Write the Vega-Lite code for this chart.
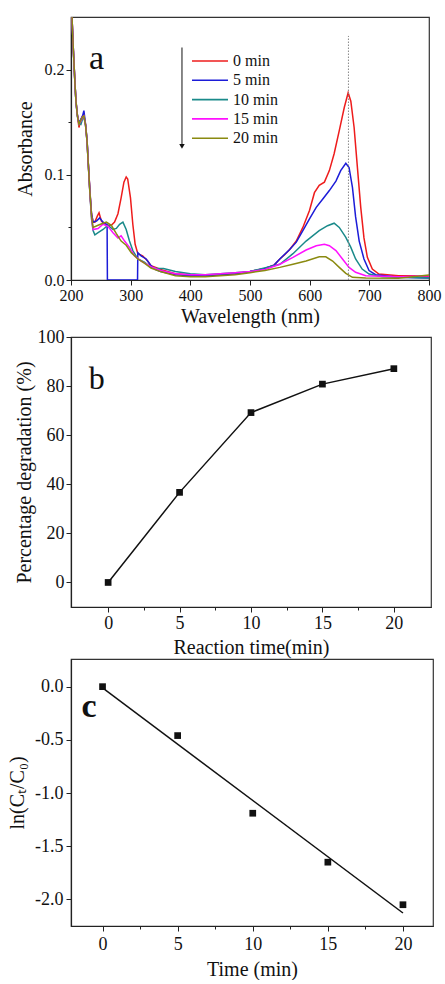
{
"$schema": "https://vega.github.io/schema/vega-lite/v6.json",
"padding": {"left": 6, "top": 16, "right": 4, "bottom": 0},
"spacing": 0,
"config": {
  "font": "Liberation Serif",
  "locale": {"number": {"decimal": ".", "thousands": ",", "grouping": [3], "currency": ["$", ""], "minus": "-"}},
  "view": {"stroke": "#333", "strokeWidth": 1.2},
  "axis": {"grid": false, "domainColor": "#222", "tickColor": "#222", "labelColor": "#111", "titleColor": "#111", "labelFont": "Liberation Serif", "titleFont": "Liberation Serif", "titleFontWeight": "normal", "domainWidth": 1.2, "tickWidth": 1, "labelOverlap": false, "labelFlush": false, "titleFontSize": 20},
  "legend": {"labelFont": "Liberation Serif"},
  "text": {"font": "Liberation Serif"}
},
"datasets": {
  "spec": [
{"s":"0 min","w":200,"a":0.32},{"s":"0 min","w":202,"a":0.245},{"s":"0 min","w":204,"a":0.218},{"s":"0 min","w":206.7,"a":0.186},{"s":"0 min","w":208.3,"a":0.17},{"s":"0 min","w":210.5,"a":0.158},{"s":"0 min","w":213.3,"a":0.145},{"s":"0 min","w":216.6,"a":0.152},{"s":"0 min","w":219.4,"a":0.156},{"s":"0 min","w":221.6,"a":0.157},{"s":"0 min","w":224.4,"a":0.148},{"s":"0 min","w":227,"a":0.132},{"s":"0 min","w":228.8,"a":0.113},{"s":"0 min","w":231.6,"a":0.085},{"s":"0 min","w":234.4,"a":0.063},{"s":"0 min","w":237,"a":0.055},{"s":"0 min","w":240,"a":0.055},{"s":"0 min","w":244.3,"a":0.061},{"s":"0 min","w":247,"a":0.064},{"s":"0 min","w":251,"a":0.056},{"s":"0 min","w":256.5,"a":0.053},{"s":"0 min","w":262,"a":0.052},{"s":"0 min","w":267.6,"a":0.052},{"s":"0 min","w":273,"a":0.055},{"s":"0 min","w":278.7,"a":0.063},{"s":"0 min","w":284,"a":0.078},{"s":"0 min","w":288.7,"a":0.093},{"s":"0 min","w":292.5,"a":0.098},{"s":"0 min","w":295,"a":0.096},{"s":"0 min","w":299.7,"a":0.078},{"s":"0 min","w":303.6,"a":0.053},{"s":"0 min","w":307.5,"a":0.034},{"s":"0 min","w":312,"a":0.025},{"s":"0 min","w":320,"a":0.023},{"s":"0 min","w":328.5,"a":0.018},{"s":"0 min","w":334,"a":0.0136},{"s":"0 min","w":342,"a":0.012},{"s":"0 min","w":350,"a":0.01},{"s":"0 min","w":375,"a":0.006},{"s":"0 min","w":400,"a":0.005},{"s":"0 min","w":425,"a":0.004},{"s":"0 min","w":450,"a":0.005},{"s":"0 min","w":475,"a":0.006},{"s":"0 min","w":500,"a":0.008},{"s":"0 min","w":525,"a":0.011},{"s":"0 min","w":540,"a":0.014},{"s":"0 min","w":550,"a":0.02},{"s":"0 min","w":558,"a":0.024},{"s":"0 min","w":566.5,"a":0.029},{"s":"0 min","w":577.6,"a":0.037},{"s":"0 min","w":588.6,"a":0.05},{"s":"0 min","w":599.7,"a":0.066},{"s":"0 min","w":608,"a":0.083},{"s":"0 min","w":616,"a":0.09},{"s":"0 min","w":624.7,"a":0.093},{"s":"0 min","w":633,"a":0.104},{"s":"0 min","w":641,"a":0.12},{"s":"0 min","w":649.6,"a":0.142},{"s":"0 min","w":658,"a":0.164},{"s":"0 min","w":664.5,"a":0.178},{"s":"0 min","w":669,"a":0.17},{"s":"0 min","w":674.5,"a":0.145},{"s":"0 min","w":680,"a":0.107},{"s":"0 min","w":685.6,"a":0.069},{"s":"0 min","w":691,"a":0.04},{"s":"0 min","w":696.7,"a":0.0215},{"s":"0 min","w":705,"a":0.0104},{"s":"0 min","w":716,"a":0.0057},{"s":"0 min","w":749,"a":0.004},{"s":"0 min","w":775,"a":0.004},{"s":"0 min","w":800,"a":0.003},
{"s":"5 min","w":200,"a":0.32},{"s":"5 min","w":202,"a":0.245},{"s":"5 min","w":204,"a":0.218},{"s":"5 min","w":206.7,"a":0.186},{"s":"5 min","w":208.3,"a":0.17},{"s":"5 min","w":210.5,"a":0.158},{"s":"5 min","w":213.3,"a":0.149},{"s":"5 min","w":216.6,"a":0.153},{"s":"5 min","w":219.4,"a":0.156},{"s":"5 min","w":221.6,"a":0.161},{"s":"5 min","w":224.4,"a":0.148},{"s":"5 min","w":227,"a":0.132},{"s":"5 min","w":228.8,"a":0.113},{"s":"5 min","w":231.6,"a":0.085},{"s":"5 min","w":234.4,"a":0.063},{"s":"5 min","w":237,"a":0.055},{"s":"5 min","w":242.7,"a":0.056},{"s":"5 min","w":248,"a":0.059},{"s":"5 min","w":253.7,"a":0.055},{"s":"5 min","w":259.3,"a":0.053},{"s":"5 min","w":260.5,"a":0.053},{"s":"5 min","w":261,"a":0},{"s":"5 min","w":311.5,"a":0},{"s":"5 min","w":312,"a":0.026},{"s":"5 min","w":317.5,"a":0.023},{"s":"5 min","w":326,"a":0.02},{"s":"5 min","w":334,"a":0.0136},{"s":"5 min","w":342,"a":0.01},{"s":"5 min","w":350,"a":0.008},{"s":"5 min","w":375,"a":0.005},{"s":"5 min","w":400,"a":0.004},{"s":"5 min","w":425,"a":0.004},{"s":"5 min","w":450,"a":0.005},{"s":"5 min","w":475,"a":0.006},{"s":"5 min","w":500,"a":0.008},{"s":"5 min","w":525,"a":0.011},{"s":"5 min","w":540,"a":0.014},{"s":"5 min","w":550,"a":0.02},{"s":"5 min","w":566.5,"a":0.029},{"s":"5 min","w":577.6,"a":0.036},{"s":"5 min","w":588.6,"a":0.047},{"s":"5 min","w":599.7,"a":0.058},{"s":"5 min","w":611,"a":0.069},{"s":"5 min","w":622,"a":0.077},{"s":"5 min","w":633,"a":0.085},{"s":"5 min","w":644,"a":0.094},{"s":"5 min","w":652,"a":0.104},{"s":"5 min","w":660.6,"a":0.111},{"s":"5 min","w":666,"a":0.107},{"s":"5 min","w":671.7,"a":0.088},{"s":"5 min","w":677,"a":0.06},{"s":"5 min","w":683,"a":0.037},{"s":"5 min","w":691,"a":0.02},{"s":"5 min","w":699.5,"a":0.009},{"s":"5 min","w":710.5,"a":0.005},{"s":"5 min","w":749,"a":0.0025},{"s":"5 min","w":800,"a":0.002},
{"s":"10 min","w":200,"a":0.32},{"s":"10 min","w":202,"a":0.245},{"s":"10 min","w":204,"a":0.218},{"s":"10 min","w":206.7,"a":0.186},{"s":"10 min","w":208.3,"a":0.17},{"s":"10 min","w":210.5,"a":0.156},{"s":"10 min","w":213.3,"a":0.149},{"s":"10 min","w":216.6,"a":0.148},{"s":"10 min","w":219.4,"a":0.153},{"s":"10 min","w":221.6,"a":0.155},{"s":"10 min","w":224.4,"a":0.147},{"s":"10 min","w":227,"a":0.131},{"s":"10 min","w":228.8,"a":0.112},{"s":"10 min","w":231.6,"a":0.083},{"s":"10 min","w":234.4,"a":0.058},{"s":"10 min","w":237,"a":0.047},{"s":"10 min","w":240,"a":0.043},{"s":"10 min","w":245.4,"a":0.045},{"s":"10 min","w":253.7,"a":0.048},{"s":"10 min","w":262,"a":0.052},{"s":"10 min","w":270.4,"a":0.048},{"s":"10 min","w":276,"a":0.049},{"s":"10 min","w":281.5,"a":0.053},{"s":"10 min","w":287,"a":0.055},{"s":"10 min","w":292.5,"a":0.048},{"s":"10 min","w":298,"a":0.037},{"s":"10 min","w":303.6,"a":0.028},{"s":"10 min","w":312,"a":0.02},{"s":"10 min","w":323,"a":0.017},{"s":"10 min","w":334,"a":0.012},{"s":"10 min","w":345,"a":0.011},{"s":"10 min","w":355,"a":0.011},{"s":"10 min","w":375,"a":0.008},{"s":"10 min","w":400,"a":0.006},{"s":"10 min","w":425,"a":0.005},{"s":"10 min","w":450,"a":0.006},{"s":"10 min","w":475,"a":0.007},{"s":"10 min","w":500,"a":0.008},{"s":"10 min","w":527.7,"a":0.012},{"s":"10 min","w":550,"a":0.015},{"s":"10 min","w":572,"a":0.025},{"s":"10 min","w":594,"a":0.037},{"s":"10 min","w":616,"a":0.047},{"s":"10 min","w":630,"a":0.0516},{"s":"10 min","w":641,"a":0.054},{"s":"10 min","w":649.6,"a":0.05},{"s":"10 min","w":660.6,"a":0.0405},{"s":"10 min","w":669,"a":0.031},{"s":"10 min","w":677,"a":0.02},{"s":"10 min","w":688,"a":0.0104},{"s":"10 min","w":699.5,"a":0.0057},{"s":"10 min","w":721.6,"a":0.003},{"s":"10 min","w":800,"a":0.002},
{"s":"15 min","w":200,"a":0.32},{"s":"15 min","w":202,"a":0.245},{"s":"15 min","w":204,"a":0.218},{"s":"15 min","w":206.7,"a":0.186},{"s":"15 min","w":208.3,"a":0.17},{"s":"15 min","w":210.5,"a":0.157},{"s":"15 min","w":213.3,"a":0.148},{"s":"15 min","w":216.6,"a":0.151},{"s":"15 min","w":219.4,"a":0.155},{"s":"15 min","w":221.6,"a":0.156},{"s":"15 min","w":224.4,"a":0.147},{"s":"15 min","w":227,"a":0.131},{"s":"15 min","w":228.8,"a":0.112},{"s":"15 min","w":231.6,"a":0.084},{"s":"15 min","w":234.4,"a":0.06},{"s":"15 min","w":237,"a":0.048},{"s":"15 min","w":245.4,"a":0.049},{"s":"15 min","w":253.7,"a":0.053},{"s":"15 min","w":262,"a":0.051},{"s":"15 min","w":270.4,"a":0.045},{"s":"15 min","w":278.7,"a":0.04},{"s":"15 min","w":284,"a":0.042},{"s":"15 min","w":289.8,"a":0.037},{"s":"15 min","w":298,"a":0.031},{"s":"15 min","w":306.4,"a":0.023},{"s":"15 min","w":317.5,"a":0.018},{"s":"15 min","w":334,"a":0.0127},{"s":"15 min","w":350,"a":0.009},{"s":"15 min","w":375,"a":0.006},{"s":"15 min","w":400,"a":0.005},{"s":"15 min","w":425,"a":0.005},{"s":"15 min","w":450,"a":0.006},{"s":"15 min","w":475,"a":0.007},{"s":"15 min","w":500,"a":0.008},{"s":"15 min","w":525,"a":0.01},{"s":"15 min","w":550,"a":0.015},{"s":"15 min","w":572,"a":0.0215},{"s":"15 min","w":594,"a":0.0285},{"s":"15 min","w":611,"a":0.0326},{"s":"15 min","w":624.7,"a":0.034},{"s":"15 min","w":633,"a":0.0326},{"s":"15 min","w":644,"a":0.028},{"s":"15 min","w":655,"a":0.02},{"s":"15 min","w":666,"a":0.012},{"s":"15 min","w":677,"a":0.0073},{"s":"15 min","w":694,"a":0.004},{"s":"15 min","w":750,"a":0.003},{"s":"15 min","w":800,"a":0.004},
{"s":"20 min","w":200,"a":0.32},{"s":"20 min","w":202,"a":0.245},{"s":"20 min","w":204,"a":0.218},{"s":"20 min","w":206.7,"a":0.186},{"s":"20 min","w":208.3,"a":0.17},{"s":"20 min","w":210.5,"a":0.157},{"s":"20 min","w":213.3,"a":0.148},{"s":"20 min","w":216.6,"a":0.152},{"s":"20 min","w":219.4,"a":0.155},{"s":"20 min","w":221.6,"a":0.156},{"s":"20 min","w":224.4,"a":0.147},{"s":"20 min","w":227,"a":0.131},{"s":"20 min","w":228.8,"a":0.112},{"s":"20 min","w":231.6,"a":0.084},{"s":"20 min","w":234.4,"a":0.061},{"s":"20 min","w":237,"a":0.05},{"s":"20 min","w":245.4,"a":0.052},{"s":"20 min","w":253.7,"a":0.054},{"s":"20 min","w":259.3,"a":0.055},{"s":"20 min","w":267.6,"a":0.052},{"s":"20 min","w":276,"a":0.044},{"s":"20 min","w":284,"a":0.037},{"s":"20 min","w":292.5,"a":0.033},{"s":"20 min","w":301,"a":0.026},{"s":"20 min","w":312,"a":0.02},{"s":"20 min","w":323,"a":0.016},{"s":"20 min","w":334,"a":0.0114},{"s":"20 min","w":350,"a":0.008},{"s":"20 min","w":375,"a":0.004},{"s":"20 min","w":400,"a":0.003},{"s":"20 min","w":425,"a":0.003},{"s":"20 min","w":450,"a":0.004},{"s":"20 min","w":475,"a":0.005},{"s":"20 min","w":500,"a":0.007},{"s":"20 min","w":525,"a":0.009},{"s":"20 min","w":550,"a":0.012},{"s":"20 min","w":572,"a":0.015},{"s":"20 min","w":594,"a":0.018},{"s":"20 min","w":616,"a":0.022},{"s":"20 min","w":627,"a":0.022},{"s":"20 min","w":638.5,"a":0.018},{"s":"20 min","w":649.6,"a":0.012},{"s":"20 min","w":660.6,"a":0.0063},{"s":"20 min","w":671.7,"a":0.0025},{"s":"20 min","w":694,"a":0.002},{"s":"20 min","w":749,"a":0.0016},{"s":"20 min","w":800,"a":0.0047}
  ],
  "deg": [{"t":0,"p":0},{"t":5,"p":36.7},{"t":10,"p":69.2},{"t":15,"p":80.8},{"t":20,"p":87.1}],
  "kin": [{"t":0,"v":0},{"t":5,"v":-0.46},{"t":10,"v":-1.19},{"t":15,"v":-1.65},{"t":20,"v":-2.05}],
  "fit": [{"t":0,"f":-0.012},{"t":20,"f":-2.128}]
},
"vconcat": [
  {
    "width": 358, "height": 263,
    "layer": [
      {
        "data": {"name": "spec"},
        "mark": {"type": "line", "clip": true, "strokeWidth": 1.5, "interpolate": "linear"},
        "encoding": {
          "x": {"field": "w", "type": "quantitative", "scale": {"domain": [200, 800], "nice": false},
                "axis": {"title": "Wavelength (nm)", "values": [200,250,300,350,400,450,500,550,600,650,700,750,800], "labelExpr": "datum.value % 100 === 0 ? datum.label : ''", "format": "d", "labelFontSize": 16, "labelOverlap": false, "tickSize": {"condition": {"test": "datum.value % 100 === 0", "value": 5}, "value": 3}, "labelPadding": 2, "titlePadding": 3}},
          "y": {"field": "a", "type": "quantitative", "scale": {"domain": [0, 0.25], "nice": false},
                "axis": {"title": "Absorbance", "values": [0, 0.05, 0.1, 0.15, 0.2], "format": ".1f", "labelExpr": "round(datum.value*100) % 10 === 0 ? datum.label : ''", "labelFontSize": 16, "labelOverlap": false, "tickSize": {"condition": {"test": "round(datum.value*100) % 10 === 0", "value": 5}, "value": 3}, "labelPadding": 2, "titlePadding": 9}},
          "color": {"field": "s", "type": "nominal",
                    "scale": {"domain": ["0 min", "5 min", "10 min", "15 min", "20 min"], "range": ["#ee1c1c", "#1c1cd8", "#1a8a8a", "#ff10ff", "#8a8a10"]},
                    "legend": {"title": null, "orient": "none", "legendX": 129, "legendY": 34, "symbolType": "M-2,0H2", "symbolSize": 324, "symbolStrokeWidth": 1.6, "labelFontSize": 16, "labelColor": "#111", "labelOffset": 13, "rowPadding": 1.3}}
        }
      },
      {
        "data": {"values": [{}]},
        "mark": {"type": "rule", "strokeDash": [1.5, 1.5], "color": "#888", "strokeWidth": 1},
        "encoding": {"x": {"datum": 665}, "y": {"datum": 0}, "y2": {"datum": 0.232}}
      },
      {
        "data": {"values": [{}]},
        "mark": {"type": "rule", "color": "#111", "strokeWidth": 1},
        "encoding": {"x": {"datum": 386}, "y": {"datum": 0.221}, "y2": {"datum": 0.128}}
      },
      {
        "data": {"values": [{}]},
        "mark": {"type": "point", "shape": "triangle-down", "filled": true, "color": "#111", "size": 30, "opacity": 1},
        "encoding": {"x": {"datum": 386}, "y": {"datum": 0.127}}
      },
      {
        "data": {"values": [{}]},
        "mark": {"type": "text", "fontSize": 34, "font": "Liberation Serif", "color": "#111"},
        "encoding": {"x": {"datum": 243}, "y": {"datum": 0.21}, "text": {"value": "a"}}
      }
    ]
  },
  {
    "width": 360, "height": 270,
    "layer": [
      {
        "data": {"name": "deg"},
        "mark": {"type": "line", "color": "#111", "strokeWidth": 1.5},
        "encoding": {
          "x": {"field": "t", "type": "quantitative", "scale": {"domain": [-2.6, 22.6], "nice": false},
                "axis": {"title": "Reaction time(min)", "values": [0,2.5,5,7.5,10,12.5,15,17.5,20], "labelExpr": "round(datum.value*2) % 10 === 0 ? datum.label : ''", "format": "d", "labelFontSize": 18, "labelOverlap": false, "tickSize": {"condition": {"test": "round(datum.value*2) % 10 === 0", "value": 5}, "value": 3}, "labelPadding": 2, "titlePadding": 5}},
          "y": {"field": "p", "type": "quantitative", "scale": {"domain": [-10, 100], "nice": false},
                "axis": {"title": "Percentage degradation (%)", "values": [0,10,20,30,40,50,60,70,80,90,100], "labelExpr": "datum.value % 20 === 0 ? datum.label : ''", "format": "d", "labelFontSize": 18, "labelOverlap": false, "tickSize": {"condition": {"test": "datum.value % 20 === 0", "value": 5}, "value": 3}, "labelPadding": 2, "titlePadding": 3}}
        }
      },
      {
        "data": {"name": "deg"},
        "mark": {"type": "point", "shape": "square", "filled": true, "color": "#111", "size": 45, "opacity": 1},
        "encoding": {"x": {"field": "t", "type": "quantitative"}, "y": {"field": "p", "type": "quantitative"}}
      },
      {
        "data": {"values": [{}]},
        "mark": {"type": "text", "fontSize": 32, "font": "Liberation Serif", "color": "#111"},
        "encoding": {"x": {"datum": -0.8}, "y": {"datum": 83}, "text": {"value": "b"}}
      }
    ]
  },
  {
    "width": 362, "height": 267,
    "layer": [
      {
        "data": {"name": "fit"},
        "mark": {"type": "line", "color": "#111", "strokeWidth": 1.5},
        "encoding": {
          "x": {"field": "t", "type": "quantitative", "scale": {"domain": [-2.1, 22], "nice": false},
                "axis": {"title": "Time (min)", "values": [0,2.5,5,7.5,10,12.5,15,17.5,20], "labelExpr": "round(datum.value*2) % 10 === 0 ? datum.label : ''", "format": "d", "labelFontSize": 18, "labelOverlap": false, "tickSize": {"condition": {"test": "round(datum.value*2) % 10 === 0", "value": 5}, "value": 3}, "labelPadding": 4, "titlePadding": 6}},
          "y": {"field": "f", "type": "quantitative", "scale": {"domain": [-2.25, 0.26], "nice": false},
                "axis": {"title": "ln(Cₜ/C₀)", "values": [0,-0.25,-0.5,-0.75,-1,-1.25,-1.5,-1.75,-2], "format": ".1f", "labelExpr": "round(datum.value*4) % 2 === 0 ? datum.label : ''", "labelFontSize": 18, "labelOverlap": false, "tickSize": {"condition": {"test": "round(datum.value*4) % 2 === 0", "value": 5}, "value": 3}, "labelPadding": 3, "titlePadding": 7}}
        }
      },
      {
        "data": {"name": "kin"},
        "mark": {"type": "point", "shape": "square", "filled": true, "color": "#111", "size": 45, "opacity": 1},
        "encoding": {"x": {"field": "t", "type": "quantitative"}, "y": {"field": "v", "type": "quantitative"}}
      },
      {
        "data": {"values": [{}]},
        "mark": {"type": "text", "fontSize": 34, "font": "Liberation Serif", "fontWeight": "bold", "color": "#111"},
        "encoding": {"x": {"datum": -0.9}, "y": {"datum": -0.19}, "text": {"value": "c"}}
      }
    ]
  }
]
}
